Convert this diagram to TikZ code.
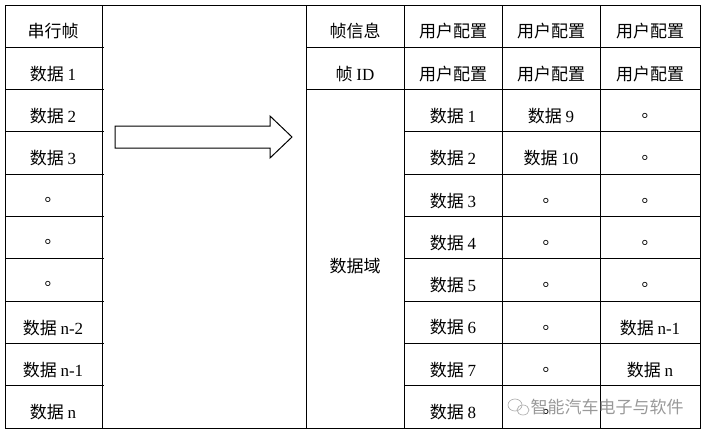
\documentclass[tikz,border=0pt]{standalone}
\usepackage{fontspec}
\setmainfont{Liberation Serif}
\newfontfamily\cjk{Noto Sans CJK SC}
\begin{document}
\begin{tikzpicture}[x=1pt,y=-1pt,line width=1pt,
  cell/.style={font=\fontsize{17}{17}\selectfont, inner sep=0pt}]
\useasboundingbox (0,0) rectangle (706,437);
% frame
\draw (5,5) rectangle (700,428);
\draw (102,5) -- (102,428);
\draw (306,5) -- (306,428);
\draw (404,5) -- (404,428);
\draw (502,5) -- (502,428);
\draw (600,5) -- (600,428);
\foreach \i in {1,...,9} {
  \draw (5,{5+42.3*\i}) -- (104,{5+42.3*\i});
  \draw (404,{5+42.3*\i}) -- (700,{5+42.3*\i});
}
\draw (306,47.3) -- (404,47.3);
\draw (306,89.6) -- (404,89.6);
% left column
\node[cell] (l1) at (53,31) {\cjk 串行帧};
\node[cell] (l2) at (53,74) {\cjk 数据 \rm 1};
\node[cell] (l3) at (53,116) {\cjk 数据 \rm 2};
\node[cell] (l4) at (53,158) {\cjk 数据 \rm 3};
\node[cell] (l5) at (53,200) {\cjk 。};
\node[cell] (l6) at (53,242) {\cjk 。};
\node[cell] (l7) at (53,284) {\cjk 。};
\node[cell] (l8) at (53,328) {\cjk 数据 \rm n-2};
\node[cell] (l9) at (53,370) {\cjk 数据 \rm n-1};
\node[cell] (l10) at (53,412) {\cjk 数据 \rm n};
% arrow
\draw (115,126) -- (270,126) -- (270,116) -- (292,137) -- (270,158) -- (270,148) -- (115,148) -- cycle;
% col 3
\node[cell] (h1) at (355,31) {\cjk 帧信息};
\node[cell] (h2) at (355,74) {\cjk 帧 \rm ID};
\node[cell] (h3) at (355,266) {\cjk 数据域};
% user config
\foreach \x/\n in {453/a,551/b,650/c} {
  \node[cell] (u1\n) at (\x,31) {\cjk 用户配置};
  \node[cell] (u2\n) at (\x,74) {\cjk 用户配置};
}
\foreach \i in {1,...,8} {
  \node[cell] (a\i) at (453,{116+42.3*(\i-1)}) {\cjk 数据 \rm\i};
}
\node[cell] (b1) at (551,116) {\cjk 数据 \rm 9};
\node[cell] (b2) at (551,158) {\cjk 数据 \rm 10};
\foreach \i in {3,...,8} {
  \node[cell] (b\i) at (551,{116+42.3*(\i-1)}) {\cjk 。};
}
\foreach \i in {1,...,5} {
  \node[cell] (c\i) at (650,{116+42.3*(\i-1)}) {\cjk 。};
}
\node[cell] (c6) at (650,328) {\cjk 数据 \rm n-1};
\node[cell] (c7) at (650,370) {\cjk 数据 \rm n};
% watermark
\node[cell, text=gray!80, anchor=west] (wm) at (530,407) {\cjk 智能汽车电子与软件};
\draw[gray!60, line width=0.7pt] (515,405) ellipse (7 and 6);
\draw[gray!60, line width=0.7pt] (523,410) ellipse (6 and 5);
\end{tikzpicture}
\end{document}
